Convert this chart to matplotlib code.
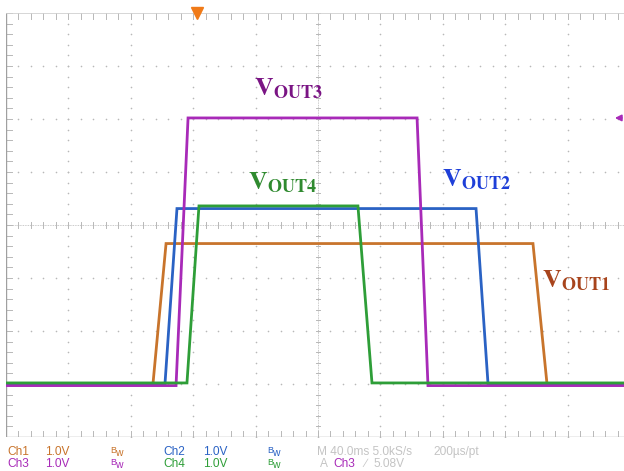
import numpy as np
import matplotlib
matplotlib.use("Agg")
import matplotlib.pyplot as plt

# ---- data (time in ms, voltage in V; 40 ms/div, 1 V/div) ----
ch1_t = [-200, -105.8, -97.4, 137.8, 146.8, 200]
ch1_v = [0.0, 0.0, 2.65, 2.65, 0.0, 0.0]
ch2_t = [-200, -98.1, -90.4, 101.3, 109.0, 200]
ch2_v = [0.0, 0.0, 3.31, 3.31, 0.0, 0.0]
ch3_t = [-200, -91.0, -83.3, 63.5, 70.5, 200]
ch3_v = [-0.03, -0.03, 5.02, 5.02, -0.03, -0.03]
ch4_t = [-200, -84.0, -76.3, 25.6, 34.6, 200]
ch4_v = [0.02, 0.02, 3.36, 3.36, 0.02, 0.02]

labels = ["OUT1", "OUT2", "OUT3", "OUT4"]
trace_colors = ["#C8742C", "#2A62C4", "#A82AB8", "#2E9E38"]
label_colors = ["#A8441C", "#1E3FD8", "#7A1484", "#2F8A2F"]
label_pos = [(143.6, -1.17), (79.5, 0.72), (-41.0, 2.45), (-44.9, 0.68)]

ch_names = ["Ch1", "Ch2", "Ch3", "Ch4"]
ch_scale = ["1.0V", "1.0V", "1.0V", "1.0V"]
timebase = "M 40.0ms 5.0kS/s"
rec = "200\u00b5s/pt"
trig_src = "Ch3"
trig_lvl = "5.08V"

offset_div = -3.0
vdiv = 1.0

plt.rcParams["mathtext.fontset"] = "stix"
fig = plt.figure(figsize=(6.24, 4.71), dpi=100)
W, H = 624, 471
x0, x1, ytop, ybot = 6, 630, 13, 437
ax = fig.add_axes([x0 / W, 1 - ybot / H, (x1 - x0) / W, (ybot - ytop) / H])
ax.set_xlim(-200, 200)
ax.set_ylim(-4, 4)
ax.axis("off")

grid_c = "#b8b8b8"
# dotted graticule
xs_major = np.arange(-200, 201, 40)
ys_major = np.arange(-4, 5, 1)
fine_x = np.arange(-200, 200.1, 8)
fine_y = np.arange(-4, 4.01, 0.2)
for xm in xs_major[1:-1]:
    ax.scatter(np.full_like(fine_y, xm), fine_y, s=1.4, c=grid_c, lw=0, zorder=1)
for ym in ys_major[1:-1]:
    ax.scatter(fine_x, np.full_like(fine_x, ym), s=1.4, c=grid_c, lw=0, zorder=1)
# center crosshair with ticks
ax.plot([-200, 200], [0, 0], color=grid_c, lw=0.6, ls=(0, (1, 1)), zorder=1)
ax.plot([0, 0], [-4, 4], color=grid_c, lw=0.6, ls=(0, (1, 1)), zorder=1)
for xv in fine_x:
    ax.plot([xv, xv], [-0.06, 0.06], color=grid_c, lw=0.7, zorder=1)
    ax.plot([xv, xv], [-4, -3.88], color=grid_c, lw=0.7, zorder=1)
    ax.plot([xv, xv], [4, 3.88], color=grid_c, lw=0.7, zorder=1)
for yv in fine_y:
    ax.plot([-1.2, 1.2], [yv, yv], color=grid_c, lw=0.7, zorder=1)
    ax.plot([-200, -196], [yv, yv], color=grid_c, lw=0.7, zorder=1)
# frame
ax.plot([-200, -200], [-4, 4], color="#a0a0a0", lw=1.0, zorder=1)
ax.plot([-200, 200], [-4, -4], color="#a8a8a8", lw=1.0, zorder=1)
ax.plot([-200, 200], [4, 4], color="#d0d0d0", lw=0.6, zorder=1)

# traces
for t, v, c in zip([ch1_t, ch2_t, ch3_t, ch4_t], [ch1_v, ch2_v, ch3_v, ch4_v], trace_colors):
    ax.plot(t, np.array(v) / vdiv + offset_div, color=c, lw=2.0, zorder=3,
            solid_joinstyle="miter")

# labels
for lab, (lx, ly), c in zip(labels, label_pos, label_colors):
    ax.text(lx, ly, r"$\mathbf{V}_{\mathbf{%s}}$" % lab, color=c, fontsize=18.5,
            ha="left", va="baseline", zorder=4)

# trigger markers
ax.plot([-77.6], [4.0], marker="v", color="#F07A18", ms=8, clip_on=False, zorder=5)
ax.annotate("", xy=(188.5, 5.02 + offset_div), xytext=(196.5, 5.02 + offset_div),
            arrowprops=dict(arrowstyle="-|>", color="#A82AB8", lw=1.3, mutation_scale=9),
            annotation_clip=False, zorder=5)

# bottom readout
ff = "Liberation Sans"
r1, r2 = 1 - 452 / H, 1 - 464 / H
def ft(px, y, s, c, fs=8.6):
    fig.text(px / W, y, s, color=c, fontsize=fs, family=ff, va="center", ha="left")

rows = [(r1, 0, 1), (r2, 2, 3)]
for y, a, b in rows:
    ft(7, y, ch_names[a], trace_colors[a])
    ft(45, y, ch_scale[a], trace_colors[a])
    ft(110, y + 0.004, "B", trace_colors[a], 6.5)
    ft(115, y - 0.002, "w", trace_colors[a], 7.5)
    ft(163, y, ch_names[b], trace_colors[b])
    ft(203, y, ch_scale[b], trace_colors[b])
    ft(267, y + 0.004, "B", trace_colors[b], 6.5)
    ft(272, y - 0.002, "w", trace_colors[b], 7.5)

gray = "#c4c4c4"
ft(317, r1, timebase, gray)
ft(433, r1, rec, gray)
ft(320, r2, "A", gray)
ft(333, r2, trig_src, "#A82AB8")
ft(364, r2, "\u2215", gray)
ft(374, r2, trig_lvl, gray)

fig.savefig("out.png", dpi=100)
